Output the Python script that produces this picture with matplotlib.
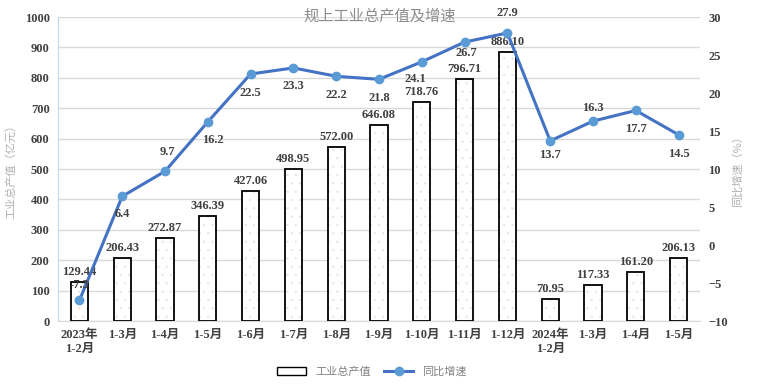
import matplotlib
matplotlib.use("Agg")
import matplotlib.pyplot as plt
from matplotlib.patches import Patch
from matplotlib.lines import Line2D
import numpy as np

categories = ["2023年\n1-2月", "1-3月", "1-4月", "1-5月", "1-6月", "1-7月", "1-8月", "1-9月",
              "1-10月", "1-11月", "1-12月", "2024年\n1-2月", "1-3月", "1-4月", "1-5月"]
output_values = [129.44, 206.43, 272.87, 346.39, 427.06, 498.95, 572.00, 646.08,
                 718.76, 796.71, 886.10, 70.95, 117.33, 161.20, 206.13]
growth_values = [-7.3, 6.4, 9.7, 16.2, 22.5, 23.3, 22.2, 21.8, 24.1, 26.7, 27.9,
                 13.7, 16.3, 17.7, 14.5]
left_ticks = list(range(0, 1001, 100))
right_ticks = list(range(-10, 31, 5))

# label offsets (pixels) for the growth labels
growth_label_offsets = [(0, 15), (0, -18), (2, 19), (5, -18), (0, -19), (0, -18), (0, -19), (0, -19),
                        (-6, -17), (2, -11), (0, 20), (0, -14), (0, 13), (0, -19), (0, -19)]

num_font = ["Liberation Serif", "Noto Sans CJK SC"]
cjk_font = ["Noto Sans CJK SC", "DejaVu Sans"]
tick_color = "#404040"

plt.rcParams['hatch.linewidth'] = 0.3
fig = plt.figure(figsize=(7.59, 3.86), dpi=100)
ax = fig.add_axes([58 / 759, 1 - 321 / 386, 642 / 759, 304 / 386])
ax2 = ax.twinx()

x = np.arange(len(categories))
bw = 0.40
# faint dotted fill layer
ax.bar(x, output_values, width=bw, color="white", edgecolor="#e2e2e2", hatch="..", linewidth=0, zorder=2)
ax.bar(x, output_values, width=bw, fill=False, edgecolor="black", linewidth=1.3, zorder=3)

for xi, v in zip(x, output_values):
    ax.annotate(f"{v:.2f}", (xi, v), xytext=(0, 4), textcoords="offset pixels",
                ha="center", va="bottom", fontsize=9, fontweight="bold",
                family=num_font, color=tick_color, zorder=5)

ax.set_ylim(0, 1000)
ax.set_yticks(left_ticks)
ax.set_xlim(-0.5, len(categories) - 0.5)
ax.set_xticks(x)
ax.set_xticklabels(categories, family=num_font, fontsize=9, fontweight="bold", color=tick_color)
ax.grid(axis="y", color="#d9d9d9", linewidth=1, zorder=0)
ax.set_axisbelow(True)
ax.tick_params(axis="both", length=0, pad=6)
for lab in ax.get_yticklabels():
    lab.set_family(num_font); lab.set_fontweight("bold"); lab.set_fontsize(9); lab.set_color(tick_color)

for s in ["top", "right"]:
    ax.spines[s].set_visible(False)
    ax2.spines[s].set_visible(False)
ax.spines["left"].set_color("#bdd7ee")
ax.spines["bottom"].set_color("#d9d9d9")
ax2.spines["left"].set_visible(False)
ax2.spines["bottom"].set_visible(False)

ax2.plot(x, growth_values, color="#4472c4", linewidth=2.2, marker="o", markersize=6,
         markerfacecolor="#5b9bd5", markeredgecolor="#5b9bd5", zorder=4)
ax2.set_ylim(-10, 30)
ax2.set_yticks(right_ticks)
ax2.tick_params(axis="y", length=0, pad=6)
for lab in ax2.get_yticklabels():
    lab.set_family(num_font); lab.set_fontweight("bold"); lab.set_fontsize(9); lab.set_color(tick_color)

for xi, v, off in zip(x, growth_values, growth_label_offsets):
    ax2.annotate(f"{v:.1f}", (xi, v), xytext=off, textcoords="offset pixels",
                 ha="center", va="center", fontsize=9, fontweight="bold",
                 family=num_font, color=tick_color, zorder=6)

ax.set_ylabel("工业总产值（亿元）", family=cjk_font, fontsize=8, color="#b0b0b0", labelpad=6)
ax2.set_ylabel("同比增速（%）", family=cjk_font, fontsize=8, color="#b0b0b0", rotation=90, labelpad=3)

fig.text(380 / 759, 1 - 16 / 386, "规上工业总产值及增速", family=cjk_font, fontsize=11,
         color="#8c8c8c", ha="center", va="center")

handles = [Patch(facecolor="white", edgecolor="black", linewidth=1.0),
           Line2D([0], [0], color="#4472c4", linewidth=2.2, marker="o", markersize=6,
                  markerfacecolor="#5b9bd5", markeredgecolor="#5b9bd5")]
fig.legend(handles, ["工业总产值", "同比增速"], loc="center", bbox_to_anchor=(372 / 759, 1 - 372 / 386),
           ncol=2, frameon=False, prop={"family": cjk_font, "size": 8}, labelcolor="#808080",
           handlelength=2.6, columnspacing=1.2)

fig.savefig("out.png", dpi=100)
